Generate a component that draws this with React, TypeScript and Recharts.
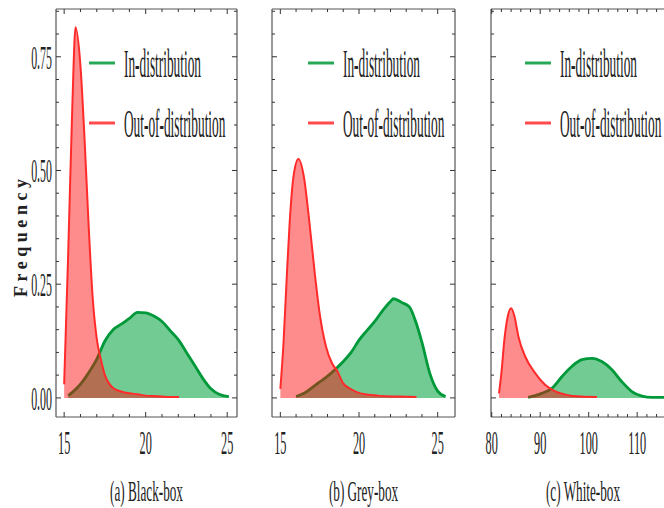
import React from 'react';
import { AreaChart, Area, XAxis, YAxis, Legend } from 'recharts';

const FONT = '"Liberation Serif", "DejaVu Serif", serif';
const GREEN = '#00993a';
const RED = '#ff2b2b';

// (a) Black-box
const blackInX = [15.25, 15.5, 16, 16.5, 17, 17.5, 18, 18.5, 19, 19.5, 20, 20.5, 21, 21.5, 22, 22.5, 23, 23.5, 24, 24.5, 25.1];
const blackInY = [0.005, 0.012, 0.03, 0.055, 0.085, 0.125, 0.15, 0.162, 0.175, 0.188, 0.187, 0.18, 0.168, 0.148, 0.128, 0.1, 0.072, 0.043, 0.02, 0.008, 0.003];
const blackOodX = [15.0, 15.25, 15.5, 15.7, 16.0, 16.25, 16.5, 16.75, 17.0, 17.25, 17.5, 17.75, 18.0, 18.5, 19.0, 19.5, 20.0, 20.5, 21.0, 21.5, 22.05];
const blackOodY = [0.03, 0.32, 0.64, 0.815, 0.73, 0.57, 0.38, 0.22, 0.13, 0.085, 0.05, 0.032, 0.022, 0.014, 0.01, 0.008, 0.005, 0.004, 0.003, 0.002, 0.002];

// (b) Grey-box
const greyInX = [16.0, 16.5, 17.0, 17.5, 18.0, 18.5, 19.0, 19.5, 20.0, 20.5, 21.0, 21.5, 22.0, 22.2, 22.7, 23.2, 23.6, 24.0, 24.5, 25.0, 25.5];
const greyInY = [0.003, 0.01, 0.022, 0.035, 0.048, 0.063, 0.08, 0.1, 0.127, 0.148, 0.168, 0.192, 0.212, 0.218, 0.21, 0.2, 0.168, 0.122, 0.054, 0.015, 0.003];
const greyOodX = [15.0, 15.2, 15.4, 15.6, 15.85, 16.15, 16.5, 16.85, 17.2, 17.5, 17.9, 18.3, 18.6, 19.0, 19.5, 20.1, 21.2, 22.5, 23.65];
const greyOodY = [0.02, 0.12, 0.26, 0.39, 0.49, 0.525, 0.485, 0.385, 0.27, 0.185, 0.113, 0.075, 0.06, 0.032, 0.019, 0.01, 0.005, 0.003, 0.002];

// (c) White-box
const whiteInX = [87.5, 90.3, 92.4, 94.5, 96.5, 98.6, 100.7, 102.7, 104.8, 106.8, 108.9, 111, 113, 116];
const whiteInY = [0.001, 0.01, 0.021, 0.047, 0.069, 0.084, 0.087, 0.08, 0.062, 0.036, 0.014, 0.004, 0.001, 0.001];
const whiteOodX = [81.5, 82, 82.6, 83.3, 84, 84.7, 85.5, 86.9, 89, 91, 93, 95.8, 98.5, 101.7];
const whiteOodY = [0.01, 0.055, 0.127, 0.179, 0.197, 0.179, 0.135, 0.091, 0.054, 0.029, 0.015, 0.006, 0.003, 0.002];

// axis ticks
const yMajor = [0, 0.25, 0.5, 0.75];
const yMinor = [0, 0.05, 0.1, 0.15, 0.2, 0.25, 0.3, 0.35, 0.4, 0.45, 0.5, 0.55, 0.6, 0.65, 0.7, 0.75, 0.8, 0.85];
const boxTicks = [15, 16, 17, 18, 19, 20, 21, 22, 23, 24, 25];
const boxMajor = [15, 20, 25];
const whiteTicks = [80, 82, 84, 86, 88, 90, 92, 94, 96, 98, 100, 102, 104, 106, 108, 110, 112, 114, 116];
const whiteMajor = [80, 90, 100, 110];

const captions = ['(a) Black-box', '(b) Grey-box', '(c) White-box'];

const Y_DOMAIN: [number, number] = [-0.042, 0.855];

type Row = { x: number; ind?: number; ood?: number };

function buildRows(inX: number[], inY: number[], oodX: number[], oodY: number[]): Row[] {
  const map = new Map<number, Row>();
  inX.forEach((x, i) => {
    const r = map.get(x) ?? { x };
    r.ind = inY[i];
    map.set(x, r);
  });
  oodX.forEach((x, i) => {
    const r = map.get(x) ?? { x };
    r.ood = oodY[i];
    map.set(x, r);
  });
  return [...map.values()].sort((a, b) => a.x - b.x);
}

const panels = [
  { left: 0, width: 238, leftW: 56, domain: [14.5, 25.6], ticks: boxTicks, major: boxMajor, rows: buildRows(blackInX, blackInY, blackOodX, blackOodY), legendLeft: 89, yLabels: true },
  { left: 261, width: 195, leftW: 11, domain: [14.47, 26.1], ticks: boxTicks, major: boxMajor, rows: buildRows(greyInX, greyInY, greyOodX, greyOodY), legendLeft: 47, yLabels: false },
  { left: 480, width: 196, leftW: 11, domain: [79.85, 117.8], ticks: whiteTicks, major: whiteMajor, rows: buildRows(whiteInX, whiteInY, whiteOodX, whiteOodY), legendLeft: 45, yLabels: false },
];

const bottomTick = (major: number[]) => (props: any) => {
  const { x, y, payload } = props;
  const isMajor = major.includes(payload.value);
  return (
    <g>
      <line x1={x} x2={x} y1={y} y2={y - (isMajor ? 5 : 3)} stroke="#333" />
      {isMajor && (
        <text transform={`translate(${x},${y + 37}) scale(0.36,1)`} textAnchor="middle" fontSize={34} fontFamily={FONT} fill="#222">
          {payload.value}
        </text>
      )}
    </g>
  );
};

const topTick = (major: number[]) => (props: any) => {
  const { x, y, payload } = props;
  const len = major.includes(payload.value) ? 5 : 3;
  return <line x1={x} x2={x} y1={y} y2={y + len} stroke="#333" />;
};

const leftTick = (showLabels: boolean) => (props: any) => {
  const { x, y, payload } = props;
  const isMajor = yMajor.includes(payload.value);
  return (
    <g>
      <line x1={x} x2={x + (isMajor ? 5 : 3)} y1={y} y2={y} stroke="#333" />
      {isMajor && showLabels && (
        <text transform={`translate(${x - 4},${y + 12}) scale(0.35,1)`} textAnchor="end" fontSize={34} fontFamily={FONT} fill="#222">
          {payload.value.toFixed(2)}
        </text>
      )}
    </g>
  );
};

const rightTick = (props: any) => {
  const { x, y, payload } = props;
  const len = yMajor.includes(payload.value) ? 5 : 3;
  return <line x1={x} x2={x - len} y1={y} y2={y} stroke="#333" />;
};

const renderLegend = (props: any) => {
  const items = props.payload ?? [];
  return (
    <svg width={170} height={110} style={{ display: 'block', overflow: 'visible' }}>
      {items.map((it: any, i: number) => {
        const cy = 23 + i * 60;
        return (
          <g key={it.value}>
            <line x1={0} x2={26} y1={cy} y2={cy} stroke={it.color} strokeWidth={3} strokeOpacity={0.85} />
            <text transform={`translate(35,${cy + 14}) scale(0.325,1)`} fontSize={41} fontFamily={FONT} fill="#222">
              {it.value}
            </text>
          </g>
        );
      })}
    </svg>
  );
};

const captionLabel = (i: number) => (props: any) => {
  const vb = props.viewBox;
  const cx = vb.x + vb.width / 2;
  return (
    <text
      transform={`translate(${cx},${vb.y + 84}) scale(0.44,1)`}
      textAnchor="middle"
      fontSize={30}
      fontFamily={FONT}
      fill="#222"
    >
      {captions[i]}
    </text>
  );
};

const freqLabel = (props: any) => {
  const vb = props.viewBox;
  const x = vb.x + 27;
  const y = 238;
  return (
    <text
      x={x}
      y={y}
      transform={`rotate(-90, ${x}, ${y})`}
      textAnchor="middle"
      fontSize={18}
      fontWeight="bold"
      fontFamily={FONT}
      fill="#222"
      textLength={118}
      lengthAdjust="spacing"
    >
      Frequency
    </text>
  );
};

export default function App() {
  return (
    <div style={{ position: 'absolute', left: 0, top: 0, width: 664, height: 508, overflow: 'hidden', background: '#fff' }}>
      {panels.map((p, i) => (
        <div key={i} style={{ position: 'absolute', left: p.left, top: 0 }}>
          <AreaChart width={p.width} height={508} data={p.rows} margin={{ top: 8, right: 0, bottom: 0, left: 0 }}>
            <XAxis
              xAxisId="b"
              dataKey="x"
              type="number"
              domain={p.domain}
              allowDataOverflow
              ticks={p.ticks}
              interval={0}
              height={91}
              tickSize={0}
              tickMargin={0}
              tickLine={false}
              tick={bottomTick(p.major)}
              axisLine={{ stroke: '#555', strokeWidth: 1.2 }}
              label={captionLabel(i)}
            />
            <XAxis
              xAxisId="t"
              orientation="top"
              dataKey="x"
              type="number"
              domain={p.domain}
              allowDataOverflow
              ticks={p.ticks}
              interval={0}
              height={1}
              tickSize={0}
              tickMargin={0}
              tickLine={false}
              tick={topTick(p.major)}
              axisLine={{ stroke: '#555', strokeWidth: 1.2 }}
            />
            <YAxis
              yAxisId="l"
              type="number"
              domain={Y_DOMAIN}
              allowDataOverflow
              ticks={yMinor}
              interval={0}
              width={p.leftW}
              tickSize={0}
              tickMargin={0}
              tickLine={false}
              tick={leftTick(p.yLabels)}
              axisLine={{ stroke: '#555', strokeWidth: 1.2 }}
              label={p.yLabels ? freqLabel : undefined}
            />
            <YAxis
              yAxisId="r"
              orientation="right"
              type="number"
              domain={Y_DOMAIN}
              allowDataOverflow
              ticks={yMinor}
              interval={0}
              width={1}
              tickSize={0}
              tickMargin={0}
              tickLine={false}
              tick={rightTick}
              axisLine={{ stroke: '#555', strokeWidth: 1.2 }}
            />
            <Legend
              layout="vertical"
              align="center"
              verticalAlign="middle"
              content={renderLegend}
              wrapperStyle={{ position: 'absolute', left: p.legendLeft, top: 40, width: 170, height: 110 }}
            />
            <Area
              xAxisId="b"
              yAxisId="l"
              name="In-distribution"
              dataKey="ind"
              type="monotone"
              baseValue={0}
              connectNulls
              stroke={GREEN}
              strokeWidth={2.8}
              fill="#00a03c"
              fillOpacity={0.55}
              dot={false}
              activeDot={false}
              isAnimationActive={false}
            />
            <Area
              xAxisId="b"
              yAxisId="l"
              name="Out-of-distribution"
              dataKey="ood"
              type="monotone"
              baseValue={0}
              connectNulls
              stroke={RED}
              strokeWidth={2}
              fill="#ff0000"
              fillOpacity={0.45}
              dot={false}
              activeDot={false}
              isAnimationActive={false}
            />
          </AreaChart>
        </div>
      ))}
    </div>
  );
}
